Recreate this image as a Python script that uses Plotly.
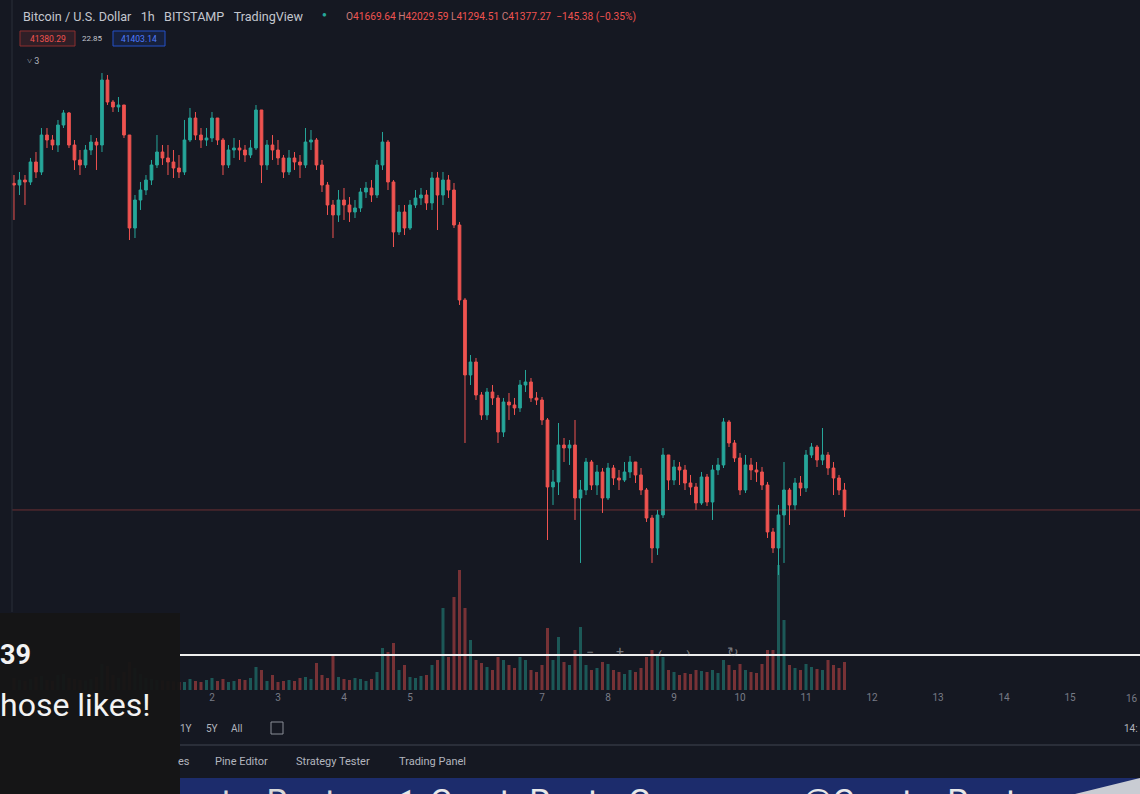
import pandas as pd
import plotly.graph_objects as go

# ---------------- data (2-hour candles, BTC/USD, BITSTAMP) ----------------
times = pd.date_range("2021-12-30 00:00", periods=152, freq="2h")

first_open = 46740
close = [
    46713, 46795, 46763, 47091, 46927, 47534, 47452, 47370, 47698, 47896,
    47370, 47124, 47042, 47288, 47419, 47370, 48437, 48076, 47994, 48027,
    47534, 46007, 46467, 46631, 46795, 47042, 47255, 47157, 47091, 46992,
    46927, 47452, 47813, 47534, 47452, 47485, 47813, 47452, 47042, 47288,
    47321, 47288, 47206, 47321, 47945, 47042, 47370, 47288, 47157, 46927,
    47157, 47091, 47042, 47419, 47452, 47042, 46713, 46385, 46221, 46467,
    46385, 46270, 46336, 46598, 46664, 46549, 47042, 47419, 46763, 45942,
    46270, 46007, 46385, 46500, 46549, 46418, 46828, 46549, 46795, 46631,
    46056, 44825, 43594, 43807, 43265, 42937, 43314, 43216, 42658, 43150,
    43101, 43052, 43429, 43479, 43216, 43183, 42855, 41755, 41837, 42444,
    42395, 42444, 41574, 41705, 42165, 41787, 42001, 41574, 42066, 41902,
    41869, 42001, 42165, 41952, 41705, 41245, 40753, 41295, 42280, 41869,
    42083, 42034, 41820, 41755, 41492, 41919, 41508, 42034, 42116, 42822,
    42477, 42231, 41705, 42116, 42034, 42001, 41787, 41016, 40753, 41295,
    41705, 41459, 41820, 41738, 42280, 42411, 42198, 42280, 42066, 41902,
    41705, 41377.27,
]
high = [
    46877, 46927, 46877, 47157, 47255, 47649, 47649, 47534, 47781, 47945,
    47912, 47452, 47288, 47370, 47534, 47485, 48552, 48520, 48109, 48158,
    48027, 47534, 46549, 46763, 46877, 47124, 47534, 47370, 47370, 47288,
    47206, 47781, 47978, 47912, 47649, 47649, 47912, 47813, 47485, 47370,
    47485, 47452, 47370, 47452, 48027, 47945, 47452, 47534, 47452, 47206,
    47288, 47255, 47206, 47649, 47616, 47485, 47124, 46763, 46467, 46631,
    46664, 46516, 46467, 46664, 46763, 46795, 47124, 47584, 47452, 46795,
    46385, 46385, 46467, 46631, 46664, 46631, 46927, 46927, 46927, 46877,
    46746, 46106, 44858, 43922, 43873, 43314, 43380, 43429, 43265, 43216,
    43298, 43216, 43511, 43676, 43544, 43314, 43232, 42887, 42034, 42805,
    42559, 42526, 42855, 41869, 42231, 42198, 42116, 42066, 42149, 42116,
    42034, 42165, 42263, 42165, 42066, 41738, 41295, 41377, 42395, 42280,
    42198, 42165, 42116, 41952, 41820, 42001, 41968, 42116, 42231, 42887,
    42855, 42526, 42313, 42280, 42231, 42165, 42083, 41837, 41081, 41459,
    42165, 41738, 41902, 41935, 42362, 42477, 42444, 42723, 42329, 42165,
    41952, 41820,
]
low = [
    46139, 46549, 46385, 46713, 46828, 46877, 47321, 47288, 47255, 47649,
    47321, 46960, 46877, 46992, 47206, 46960, 47255, 48027, 47912, 47912,
    47485, 45810, 45843, 46303, 46549, 46713, 46992, 47042, 46877, 46828,
    46828, 46877, 47419, 47452, 47321, 47354, 47419, 47370, 46877, 46992,
    47157, 47124, 47091, 47157, 47288, 46746, 46960, 47124, 47042, 46828,
    46877, 46960, 46828, 46992, 47288, 46960, 46598, 46221, 45843, 46106,
    46139, 46106, 46171, 46270, 46500, 46434, 46500, 46960, 46631, 45695,
    45892, 45892, 45974, 46336, 46385, 46303, 46303, 45974, 46385, 46500,
    46007, 44743, 42477, 43429, 43183, 42855, 42855, 43101, 42477, 42576,
    42855, 42937, 42986, 43314, 43150, 43101, 42773, 40884, 41459, 41623,
    42165, 42116, 41213, 40507, 41623, 41705, 41623, 41328, 41541, 41787,
    41705, 41837, 41902, 41820, 41623, 41180, 40507, 40638, 41245, 41705,
    41787, 41787, 41705, 41623, 41377, 41459, 41442, 41213, 41952, 42066,
    42411, 42165, 41623, 41656, 41869, 41837, 41705, 40917, 40671, 40310,
    40507, 41131, 41377, 41607, 41672, 42231, 42083, 42116, 41952, 41623,
    41623, 41262,
]
volume = [
    120, 100, 90, 110, 130, 140, 100, 90, 150, 160,
    120, 110, 100, 95, 110, 130, 260, 240, 150, 120,
    180, 280, 220, 160, 120, 110, 100, 95, 90, 85,
    80, 80, 110, 90, 80, 100, 120, 90, 110, 80,
    90, 110, 100, 120, 230, 200, 90, 150, 80, 90,
    100, 90, 120, 130, 110, 270, 150, 120, 350, 130,
    110, 100, 120, 110, 90, 110, 180, 420, 380, 470,
    200, 250, 130, 120, 140, 150, 250, 300, 820, 330,
    930, 1200, 820, 500, 300, 270, 230, 200, 330, 300,
    250, 220, 330, 300, 200, 180, 250, 620, 300, 530,
    280, 250, 400, 630, 250, 200, 220, 280, 260, 200,
    180, 160, 200, 180, 220, 330, 400, 350, 330, 200,
    180, 150, 170, 160, 200, 190, 180, 200, 170, 300,
    250, 200, 260, 200, 180, 170, 260, 400, 400, 1250,
    700, 250, 220, 200, 260, 230, 210, 200, 300, 250,
    220, 280,
]
opens = [first_open] + close[:-1]

day_ticks = ["2022-01-02", "2022-01-03", "2022-01-04", "2022-01-05", "2022-01-07",
             "2022-01-08", "2022-01-09", "2022-01-10", "2022-01-11", "2022-01-12",
             "2022-01-13", "2022-01-14", "2022-01-15"]
day_labels = ["2", "3", "4", "5", "7", "8", "9", "10", "11", "12", "13", "14", "15"]

last_price = 41377.27

# ---------------- styling ----------------
BG = "#151822"
UP = "#26a69a"
DOWN = "#ef5350"
W, H = 1140, 794
PB = 690  # bottom of plot area in px


def px(x):
    return x / W


def py(y):
    return (PB - y) / PB


vol_colors = ["rgba(38,166,154,0.45)" if c >= o else "rgba(239,83,80,0.45)"
              for o, c in zip(opens, close)]

fig = go.Figure()
fig.add_trace(go.Bar(x=times, y=volume, marker=dict(color=vol_colors, line=dict(width=0)),
                     yaxis="y2", hoverinfo="skip"))
fig.add_trace(go.Candlestick(
    x=times, open=opens, high=high, low=low, close=close,
    increasing=dict(line=dict(color=UP, width=1), fillcolor=UP),
    decreasing=dict(line=dict(color=DOWN, width=1), fillcolor=DOWN),
    whiskerwidth=0, hoverinfo="skip"))

shapes = []
annotations = []

# price line
shapes.append(dict(type="line", xref="paper", yref="y", x0=px(12), x1=1, y0=last_price, y1=last_price,
                   line=dict(color="rgba(239,83,80,0.4)", width=1)))
# left border line
shapes.append(dict(type="line", xref="paper", yref="paper", x0=px(12), x1=px(12), y0=py(612), y1=py(0),
                   line=dict(color="#2a2e39", width=1)))
# white horizontal line
shapes.append(dict(type="line", xref="paper", yref="paper", x0=px(180), x1=1, y0=py(655), y1=py(655),
                   line=dict(color="#eeeeee", width=2), layer="above"))
# red & blue price boxes
shapes.append(dict(type="rect", xref="paper", yref="paper", x0=px(20), x1=px(75), y0=py(46), y1=py(31),
                   line=dict(color="#8c2f2f", width=1), fillcolor="rgba(239,83,80,0.12)"))
shapes.append(dict(type="rect", xref="paper", yref="paper", x0=px(113), x1=px(165), y0=py(46), y1=py(31),
                   line=dict(color="#2450c8", width=1), fillcolor="rgba(41,98,255,0.12)"))
# separator under toolbar
shapes.append(dict(type="line", xref="paper", yref="paper", x0=px(180), x1=1, y0=py(745), y1=py(745),
                   line=dict(color="#2a2e39", width=2), layer="above"))
# toolbar icon
shapes.append(dict(type="rect", xref="paper", yref="paper", x0=px(271), x1=px(283), y0=py(734), y1=py(722),
                   line=dict(color="#8a8d96", width=1), layer="above"))
# bottom banner
shapes.append(dict(type="rect", xref="paper", yref="paper", x0=px(180), x1=1, y0=py(794), y1=py(778),
                   line=dict(width=0), fillcolor="#1c2c6c", layer="above"))
shapes.append(dict(type="path", xref="paper", yref="paper",
                   path=f"M {px(1075)},{py(794)} L {px(1140)},{py(778)} L {px(1140)},{py(794)} Z",
                   line=dict(width=0), fillcolor="#c9ccd3", layer="above"))
# overlay panel bottom-left
shapes.append(dict(type="rect", xref="paper", yref="paper", x0=0, x1=px(180), y0=py(794), y1=py(613),
                   line=dict(width=0), fillcolor="rgba(22,22,22,0.97)", layer="above"))


def ann(text, x, y, size=11, color="#b2b5be", xanchor="left", family="Roboto", **kw):
    annotations.append(dict(text=text, x=px(x), y=py(y), xref="paper", yref="paper",
                            xanchor=xanchor, yanchor="middle", showarrow=False,
                            font=dict(size=size, color=color, family=family), **kw))


ann("Bitcoin / U.S. Dollar&nbsp;&nbsp;&nbsp;1h&nbsp;&nbsp;&nbsp;BITSTAMP&nbsp;&nbsp;&nbsp;TradingView",
    21, 16, size=12.6, color="#c3c6ce")
ann("●", 324, 15, size=8, color=UP, xanchor="center")
lc = "#c77a78"
ohlc = (f'<span style="color:{lc}">O</span>41669.64 <span style="color:{lc}">H</span>42029.59 '
        f'<span style="color:{lc}">L</span>41294.51 <span style="color:{lc}">C</span>41377.27 '
        f'&nbsp;−145.38 (−0.35%)')
ann(ohlc, 344, 17, size=10.2, color=DOWN)
ann("41380.29", 47.5, 38.5, size=8.5, color=DOWN, xanchor="center")
ann("22.85", 92, 38.5, size=8, color="#c3c6ce", xanchor="center")
ann("41403.14", 139, 38.5, size=8.5, color="#4f7cff", xanchor="center")
ann("˅ 3", 25, 61, size=9, color="#b2b5be")

# last visible day label at right edge
ann("16", 1140, 698, size=10, color="#787b86", xanchor="right")

# navigation controls on the white line
for t, x in [("−", 590), ("+", 620), ("‹", 660), ("›", 688), ("↻", 733)]:
    ann(t, x, 652, size=14, color="rgba(200,200,200,0.55)", xanchor="center")

# overlay text
ann("<b>39</b>", -2, 655, size=27, color="#f2f2f2")
ann("hose likes!", -2, 705, size=32, color="#f2f2f2")

# toolbar
ann("1Y", 186, 728, size=10, xanchor="center")
ann("5Y", 212, 728, size=10, xanchor="center")
ann("All", 236, 728, size=10, xanchor="center")
ann("14:", 1140, 728, size=10, xanchor="right")

# bottom tabs
ann("es", 176, 761, size=11)
ann("Pine Editor", 241, 761, size=11, xanchor="center")
ann("Strategy Tester", 333, 761, size=11, xanchor="center")
ann("Trading Panel", 432, 761, size=11, xanchor="center")

# banner text (partially cut at bottom, as in the source screenshot)
ann("pto_Ranter", 200, 801, size=34, color="#d8d8d8")
ann("◀", 398, 799, size=30, color="#e8e8e8", xanchor="center")
ann("CryptoRanterGroup", 428, 801, size=34, color="#e8e8e8")
ann("@Crypto_Ranter", 800, 801, size=34, color="#e8e8e8")

fig.update_layout(
    width=W, height=H,
    margin=dict(l=0, r=0, t=0, b=H - PB),
    paper_bgcolor=BG, plot_bgcolor=BG,
    showlegend=False,
    boxgap=0.3, bargap=0.45,
    xaxis=dict(type="date", range=["2021-12-29 18:55", "2022-01-16 01:27"],
               tickvals=day_ticks, ticktext=day_labels,
               showgrid=False, zeroline=False, showline=False, ticks="",
               tickfont=dict(color="#787b86", size=10, family="Roboto"),
               rangeslider=dict(visible=False), fixedrange=True),
    yaxis=dict(range=[38421, 49751], visible=False, fixedrange=True),
    yaxis2=dict(range=[0, 6900], overlaying="y", visible=False, fixedrange=True),
    shapes=shapes,
    annotations=annotations,
)

fig.write_html("out.html", config={"displayModeBar": False},
               post_script="document.body.style.margin='0';document.body.style.background='%s';" % BG)
